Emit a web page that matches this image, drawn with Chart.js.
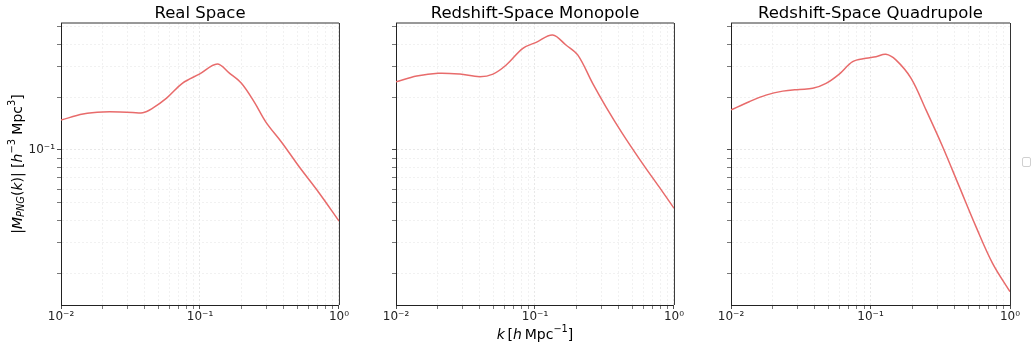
<!DOCTYPE html>
<html>
<head>
<meta charset="utf-8">
<script src="https://cdn.jsdelivr.net/npm/chart.js@4/dist/chart.umd.min.js"></script>
<style>
  body { margin: 0; background: #fff; width: 1032px; height: 349px; position: relative; overflow: hidden; }
  canvas { position: absolute; top: 0; }
  #legendBox { position: absolute; left: 1022px; top: 157px; width: 9px; height: 10px;
               border: 1px solid #d0d0d0; border-radius: 2px; box-sizing: border-box; background: #fff; }
</style>
</head>
<body>
<canvas id="real" width="350" height="349" style="left:0px"></canvas>
<canvas id="mono" width="345" height="349" style="left:340px"></canvas>
<canvas id="quad" width="337" height="349" style="left:685px"></canvas>
<div id="legendBox"></div>
<script>
//!Data
var kReal = [0.01, 0.0144, 0.02, 0.0297, 0.0387, 0.0457, 0.0575, 0.075, 0.099, 0.133, 0.162, 0.198, 0.246, 0.298, 0.389, 0.519, 0.72, 1.0];
var mReal = [0.148, 0.160, 0.1644, 0.164, 0.163, 0.173, 0.197, 0.240, 0.270, 0.308, 0.274, 0.240, 0.187, 0.144, 0.110, 0.080, 0.057, 0.0395];

var kMono = [0.01, 0.0141, 0.0201, 0.0288, 0.040, 0.0499, 0.0621, 0.0818, 0.102, 0.134, 0.167, 0.203, 0.260, 0.324, 0.426, 0.593, 0.780, 1.0];
var mMono = [0.244, 0.263, 0.273, 0.270, 0.261, 0.270, 0.304, 0.378, 0.409, 0.450, 0.395, 0.347, 0.239, 0.176, 0.124, 0.084, 0.0619, 0.0467];

var kQuad = [0.01, 0.0135, 0.0178, 0.0235, 0.0309, 0.0385, 0.048, 0.0597, 0.0745, 0.0929, 0.1095, 0.129, 0.152, 0.195, 0.250, 0.329, 0.433, 0.570, 0.750, 1.0];
var mQuad = [0.169, 0.188, 0.205, 0.216, 0.221, 0.224, 0.239, 0.270, 0.318, 0.332, 0.339, 0.350, 0.325, 0.256, 0.169, 0.1044, 0.0619, 0.0367, 0.0227, 0.01566];

var panelTitles = ["Real Space", "Redshift-Space Monopole", "Redshift-Space Quadrupole"];
var xTicks = [0.01, 0.02, 0.03, 0.04, 0.05, 0.06, 0.07, 0.08, 0.09, 0.1, 0.2, 0.3, 0.4, 0.5, 0.6, 0.7, 0.8, 0.9, 1];
var yTicks = [0.02, 0.03, 0.04, 0.05, 0.06, 0.07, 0.08, 0.09, 0.1, 0.2, 0.3, 0.4, 0.5];
var decadeLabels = { "-2": "10\u207B\u00B2", "-1": "10\u207B\u00B9", "0": "10\u2070" };

var FONT = "'DejaVu Sans', sans-serif";
var lineColor = "#e86b6b";

function decadeOf(v) {
  var e = Math.log10(v);
  return Math.abs(e - Math.round(e)) < 1e-6 ? Math.round(e) : null;
}

// draws mixed italic / sub / superscript text, centred on (x, y)
function drawRich(ctx, parts, x, y, size, rotate) {
  function font(p) {
    var s = p.sup || p.sub ? size * 0.7 : size;
    return (p.it ? "italic " : "") + s + "px " + FONT;
  }
  ctx.save();
  ctx.translate(x, y);
  if (rotate) ctx.rotate(-Math.PI / 2);
  ctx.fillStyle = "#000";
  ctx.textBaseline = "middle";
  var total = 0;
  parts.forEach(function(p) { ctx.font = font(p); total += ctx.measureText(p.t).width; });
  var cx = -total / 2;
  parts.forEach(function(p) {
    ctx.font = font(p);
    var dy = p.sup ? -size * 0.38 : p.sub ? size * 0.28 : 0;
    ctx.fillText(p.t, cx, dy);
    cx += ctx.measureText(p.t).width;
  });
  ctx.restore();
}

// panel title, top/right spines and the axis labels
var framePlugin = {
  id: "frame",
  afterDraw: function(chart) {
    var a = chart.chartArea, ctx = chart.ctx;
    var extra = chart.options.plugins.frame || {};
    ctx.save();
    ctx.strokeStyle = "#333";
    ctx.lineWidth = 1;
    ctx.beginPath();
    ctx.moveTo(a.left, a.top);
    ctx.lineTo(a.right, a.top);
    ctx.moveTo(a.right + 0.5, a.top);
    ctx.lineTo(a.right + 0.5, a.bottom);
    ctx.stroke();
    ctx.fillStyle = "#000";
    ctx.font = "16.5px " + FONT;
    ctx.textAlign = "center";
    ctx.textBaseline = "alphabetic";
    ctx.fillText(extra.title, (a.left + a.right) / 2, 18);
    ctx.restore();
    if (extra.yTitle) {
      drawRich(ctx, [
        { t: "|" }, { t: "M", it: 1 }, { t: "PNG", it: 1, sub: 1 }, { t: "(" }, { t: "k", it: 1 }, { t: ")| [" },
        { t: "h", it: 1 }, { t: "\u22123", sup: 1 }, { t: " Mpc" }, { t: "3", sup: 1 }, { t: "]" }
      ], 18, (a.top + a.bottom) / 2, 14, true);
    }
    if (extra.xTitle) {
      drawRich(ctx, [
        { t: "k", it: 1 }, { t: "\u2009[" }, { t: "h", it: 1 }, { t: "\u2009Mpc" }, { t: "\u22121", sup: 1 }, { t: "]" }
      ], (a.left + a.right) / 2, 335, 14, false);
    }
  }
};

function gridStyle() {
  return {
    color: function(c) { return decadeOf(c.tick.value) !== null ? "#e2e2e2" : "#eeeeee"; },
    lineWidth: 0.8,
    tickLength: 4,
    tickColor: function(c) { return decadeOf(c.tick.value) !== null ? "#222" : "#555"; }
  };
}

function makePanel(id, title, ks, ms, yWidth, padRight, opts) {
  var pts = ks.map(function(k, i) { return { x: k, y: ms[i] }; });
  opts.title = title;
  return new Chart(document.getElementById(id), {
    type: "line",
    data: {
      datasets: [{
        data: pts,
        borderColor: lineColor,
        borderWidth: 1.5,
        pointRadius: 0,
        fill: false,
        tension: 0.35
      }]
    },
    options: {
      responsive: false,
      animation: false,
      layout: { padding: { left: 0, right: padRight, top: 23, bottom: 0 } },
      plugins: {
        legend: { display: false },
        tooltip: { enabled: false },
        frame: opts
      },
      scales: {
        x: {
          type: "logarithmic",
          min: 0.01,
          max: 1,
          afterBuildTicks: function(scale) { scale.ticks = xTicks.map(function(v) { return { value: v }; }); },
          afterFit: function(scale) { scale.height = 44; },
          grid: gridStyle(),
          border: { display: true, color: "#222", width: 1, dash: [2, 2] },
          ticks: {
            autoSkip: false,
            maxRotation: 0,
            padding: 1,
            color: "#222",
            font: { family: FONT, size: 12 },
            callback: function(v) { var d = decadeOf(v); return d !== null ? decadeLabels[d] : ""; }
          }
        },
        y: {
          type: "logarithmic",
          min: 0.01316,
          max: 0.5267,
          afterBuildTicks: function(scale) { scale.ticks = yTicks.map(function(v) { return { value: v }; }); },
          afterFit: function(scale) { scale.width = yWidth; },
          grid: gridStyle(),
          border: { display: true, color: "#222", width: 1, dash: [2, 2] },
          ticks: {
            autoSkip: false,
            padding: 2,
            color: "#222",
            font: { family: FONT, size: 12 },
            callback: function(v) {
              if (!opts.yLabels) return "";
              var d = decadeOf(v);
              return d !== null ? decadeLabels[d] : "";
            }
          }
        }
      }
    },
    plugins: [framePlugin]
  });
}

makePanel("real", panelTitles[0], kReal, mReal, 61, 10, { yLabels: true, yTitle: true });
makePanel("mono", panelTitles[1], kMono, mMono, 56, 10, { xTitle: true });
makePanel("quad", panelTitles[2], kQuad, mQuad, 46, 12, {});
</script>
</body>
</html>
